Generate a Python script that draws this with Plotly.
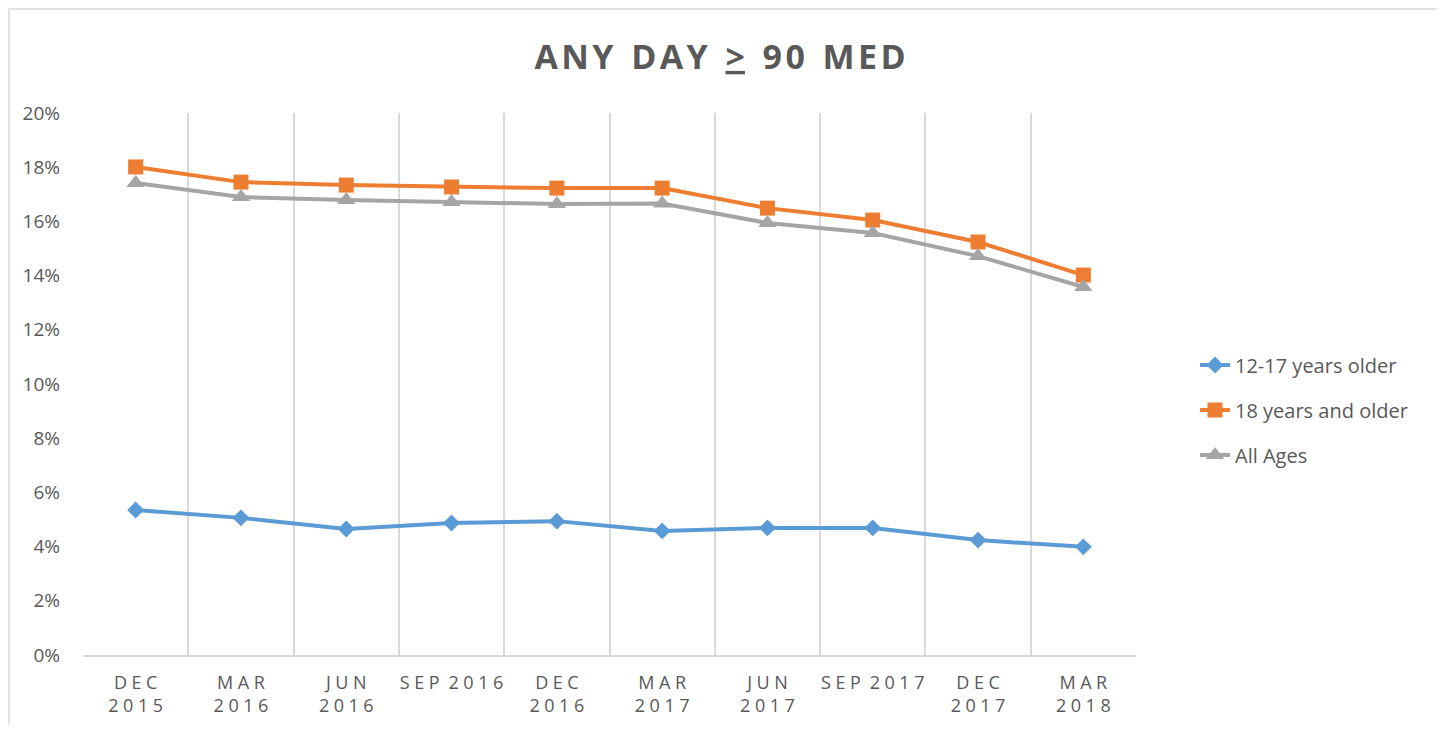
import plotly.graph_objects as go

categories = ["DEC 2015", "MAR 2016", "JUN 2016", "SEP 2016", "DEC 2016",
              "MAR 2017", "JUN 2017", "SEP 2017", "DEC 2017", "MAR 2018"]
tick_labels = ["DEC<br>2015", "MAR<br>2016", "JUN<br>2016", "SEP 2016", "DEC<br>2016",
               "MAR<br>2017", "JUN<br>2017", "SEP 2017", "DEC<br>2017", "MAR<br>2018"]
teens = [0.0535, 0.0506, 0.0465, 0.0487, 0.0494, 0.0458, 0.0469, 0.0469, 0.0424, 0.0399]
adults = [0.1801, 0.1745, 0.1734, 0.1727, 0.1723, 0.1723, 0.1649, 0.1605, 0.1524, 0.1402]
all_ages = [0.1742, 0.1690, 0.1679, 0.1672, 0.1664, 0.1666, 0.1594, 0.1557, 0.1472, 0.1358]
y_ticks = [0, 0.02, 0.04, 0.06, 0.08, 0.10, 0.12, 0.14, 0.16, 0.18, 0.20]

SP = "\u2005"
HS = "\u200a"


def spaced(s, sep=SP, wordsep=SP * 2):
    parts = s.split("<br>")
    out = []
    for p in parts:
        words = p.split(" ")
        out.append(wordsep.join(sep.join(list(w)) for w in words))
    return "<br>".join(out)


OFF = 8  # page body margin
W, H = 1437, 716
# plot area in page pixels
PL, PR, PT, PB = 83, 1136, 113, 655
L, R, T, B = PL - OFF, PR - OFF, PT - OFF, PB - OFF

fig = go.Figure()
series = [
    ("12-17 years older", teens, "#5B9BD5", "diamond", 13),
    ("18 years and older", adults, "#ED7D31", "square", 15),
    ("All Ages", all_ages, "#A5A5A5", "triangle-up", 16),
]
for name, vals, col, sym, sz in series:
    fig.add_trace(go.Scatter(
        x=categories, y=vals, name=name, mode="lines+markers",
        line=dict(color=col, width=4),
        marker=dict(symbol=sym, size=sz, color=col),
        legendgroup=name,
    ))


def px_x(page_x):
    return (page_x - PL) / (PR - PL)


def px_y(page_y):
    return (PB - page_y) / (PB - PT)


fig.add_shape(type="rect", xref="paper", yref="paper",
              x0=px_x(OFF + 1), x1=px_x(1441), y0=px_y(760), y1=px_y(OFF + 1),
              line=dict(color="#D9D9D9", width=1.5), layer="below")

title_text = "<b>" + spaced("ANY DAY", HS, "  ") + "  <u>&gt;</u>  " + spaced("90 MED", HS, "  ") + "</b>"

fig.update_layout(
    width=W, height=H,
    margin=dict(l=L, r=W - R, t=T, b=H - B, autoexpand=False),
    paper_bgcolor="white", plot_bgcolor="white",
    font=dict(family="Open Sans", color="#595959"),
    title=dict(
        text=title_text,
        x=px_x(720), xref="paper", xanchor="center",
        y=1 - (57 - OFF) / H, yref="container", yanchor="middle",
        font=dict(size=34, color="#595959", family="Open Sans"),
    ),
    xaxis=dict(
        type="category",
        tickmode="array", tickvals=categories, ticktext=[spaced(t) for t in tick_labels],
        tickson="boundaries", ticks="", tickangle=0, automargin=False,
        ticklabelstandoff=10,
        showgrid=True, gridcolor="#D9D9D9", gridwidth=2,
        showline=True, linecolor="#D9D9D9", linewidth=2,
        tickfont=dict(size=18, color="#595959", family="Open Sans"),
        range=[-0.5, 9.5], zeroline=False,
    ),
    yaxis=dict(
        range=[0, 0.20], tickvals=y_ticks, tickformat=".0%", automargin=False,
        showgrid=False, zeroline=False, showline=False,
        tickfont=dict(size=19, color="#595959", family="Open Sans"),
        ticklabelstandoff=22,
    ),
    legend=dict(
        x=px_x(1195), xanchor="left", y=px_y(410), yanchor="middle",
        font=dict(size=20, color="#595959", family="Open Sans"),
        tracegroupgap=16, bgcolor="rgba(0,0,0,0)",
    ),
    showlegend=True,
)

fig.write_html("out.html")
